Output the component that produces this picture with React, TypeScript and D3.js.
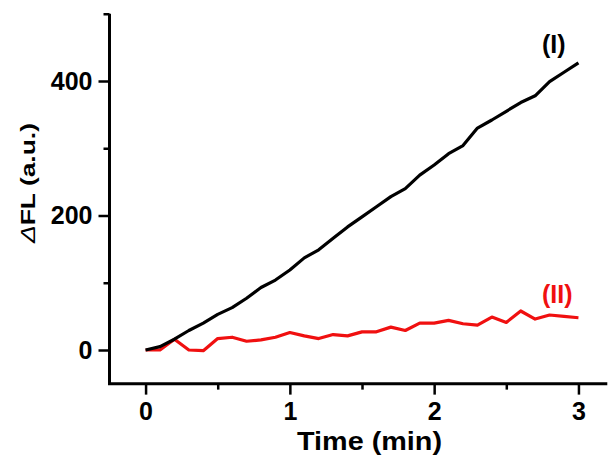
import React, { useEffect, useRef } from "react";
import * as d3 from "d3";

// time points (min)
const times = d3.range(0, 31).map((i) => i / 10);

// series (I), black
const seriesI = [
  0, 5, 16, 29, 40, 53, 63, 77, 93, 104, 119, 137, 149, 166, 183, 198, 213,
  228, 240, 260, 275, 292, 304, 330, 342, 355, 368, 378, 399, 413, 427,
];

// series (II), red
const seriesII = [
  0, 0, 16, 0, -1, 17, 19, 13, 15, 19, 26, 21, 17, 23, 21, 27, 27, 34, 29, 40,
  40, 44, 39, 37, 49, 41, 58, 46, 52, 50, 48,
];

const xMajor = [0, 1, 2, 3];
const xMinor = [0.5, 1.5, 2.5];
const yMajor = [0, 200, 400];
const yMinor = [100, 300, 500];

const width = 608;
const height = 459;
const font = "'Liberation Sans', Arial, sans-serif";

export default function App() {
  const svgRef = useRef<SVGSVGElement>(null);

  useEffect(() => {
    const svg = d3.select(svgRef.current);
    svg.selectAll("*").remove();

    const x = d3.scaleLinear().domain([-0.25, 3.2]).range([109.5, 607.3]);
    const y = d3.scaleLinear().domain([0, 400]).range([350, 81]);
    const yBottom = y(-50);
    const yTop = y(500);

    // minor ticks
    svg
      .append("g")
      .attr("transform", `translate(0,${yBottom})`)
      .call(d3.axisBottom(x).tickValues(xMinor).tickSize(6).tickSizeOuter(0).tickFormat(() => ""))
      .call((g) => g.select(".domain").remove())
      .call((g) => g.selectAll("line").attr("stroke-width", 2.5));
    svg
      .append("g")
      .attr("transform", `translate(${x(-0.25)},0)`)
      .call(d3.axisLeft(y).tickValues(yMinor).tickSize(6).tickSizeOuter(0).tickFormat(() => ""))
      .call((g) => g.select(".domain").remove())
      .call((g) => g.selectAll("line").attr("stroke-width", 2.5));

    // major ticks + labels
    svg
      .append("g")
      .attr("transform", `translate(0,${yBottom})`)
      .call(d3.axisBottom(x).tickValues(xMajor).tickSize(11).tickPadding(8).tickSizeOuter(0).tickFormat(d3.format("d")))
      .call((g) => g.select(".domain").remove())
      .call((g) => g.selectAll("line").attr("stroke-width", 2.5))
      .call((g) =>
        g.selectAll("text").attr("font-family", font).attr("font-weight", "bold").attr("font-size", 25).attr("fill", "#000")
      );
    svg
      .append("g")
      .attr("transform", `translate(${x(-0.25)},0)`)
      .call(d3.axisLeft(y).tickValues(yMajor).tickSize(11).tickPadding(6).tickSizeOuter(0).tickFormat(d3.format("d")))
      .call((g) => g.select(".domain").remove())
      .call((g) => g.selectAll("line").attr("stroke-width", 2.5))
      .call((g) =>
        g.selectAll("text").attr("font-family", font).attr("font-weight", "bold").attr("font-size", 25).attr("fill", "#000")
      );

    // axis lines (left + bottom)
    svg
      .append("path")
      .attr("d", `M${x(-0.25)},${yTop}V${yBottom}H${x(3.2)}`)
      .attr("fill", "none")
      .attr("stroke", "#000")
      .attr("stroke-width", 3)
      .attr("stroke-linejoin", "miter");

    const line = d3
      .line<number>()
      .x((d, i) => x(times[i]))
      .y((d) => y(d));

    svg
      .append("path")
      .datum(seriesII)
      .attr("fill", "none")
      .attr("stroke", "#f01010")
      .attr("stroke-width", 3.2)
      .attr("stroke-linejoin", "round")
      .attr("d", line);

    svg
      .append("path")
      .datum(seriesI)
      .attr("fill", "none")
      .attr("stroke", "#000")
      .attr("stroke-width", 3.2)
      .attr("stroke-linejoin", "round")
      .attr("d", line);

    // series labels
    svg
      .append("text")
      .attr("x", 542)
      .attr("y", 53)
      .attr("font-family", font)
      .attr("font-weight", "bold")
      .attr("font-size", 25)
      .attr("fill", "#000")
      .text("(I)");
    svg
      .append("text")
      .attr("x", 542)
      .attr("y", 303)
      .attr("font-family", font)
      .attr("font-weight", "bold")
      .attr("font-size", 25)
      .attr("fill", "#f01010")
      .text("(II)");

    // axis titles
    svg
      .append("text")
      .attr("x", 369.5)
      .attr("y", 450)
      .attr("text-anchor", "middle")
      .attr("font-family", font)
      .attr("font-weight", "bold")
      .attr("font-size", 25)
      .attr("textLength", 145)
      .attr("lengthAdjust", "spacingAndGlyphs")
      .text("Time (min)");

    const yt = svg
      .append("text")
      .attr("transform", `translate(35,183) rotate(-90)`)
      .attr("text-anchor", "middle")
      .attr("font-family", font)
      .attr("font-weight", "bold")
      .attr("font-size", 21)
      .attr("textLength", 120)
      .attr("lengthAdjust", "spacingAndGlyphs");
    yt.append("tspan").attr("font-style", "italic").attr("font-weight", "normal").text("Δ");
    yt.append("tspan").text("FL (a.u.)");
  }, []);

  return (
    <svg
      ref={svgRef}
      width={width}
      height={height}
      style={{ position: "absolute", left: 0, top: 0, background: "#fff" }}
    />
  );
}
